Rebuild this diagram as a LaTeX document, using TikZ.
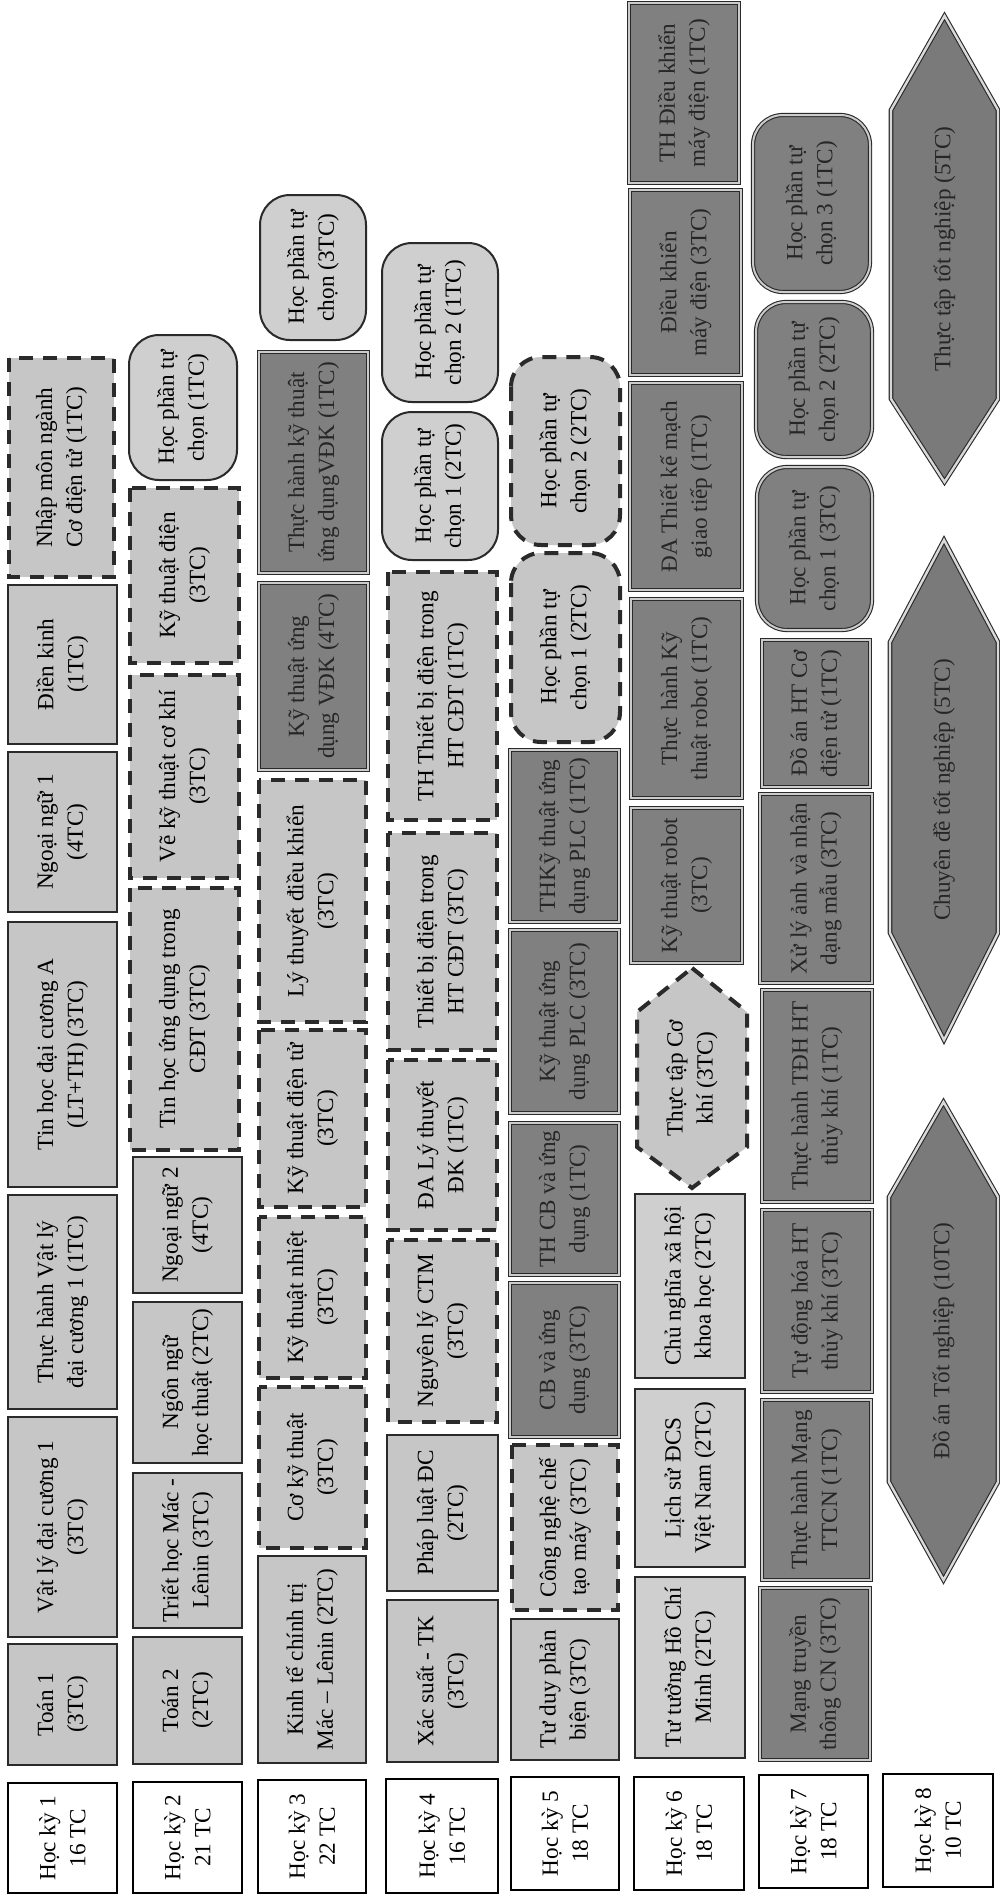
\documentclass[tikz,border=0pt]{standalone}
\usepackage{fontspec}
\setmainfont{Liberation Serif}
\definecolor{lightg}{HTML}{C6C6C6}
\definecolor{lightg2}{HTML}{CFCFCF}
\definecolor{darkg}{HTML}{808080}
\definecolor{edge}{HTML}{2A2A2A}
\newcommand{\cfont}{\fontsize{11.6}{15}\selectfont}
\newcommand{\cbox}[7]{%
  \pgfmathsetmacro\cbW{(#5-#3)*0.5}%
  \pgfmathsetmacro\cbH{(#4-#2)*0.5}%
  \pgfmathsetmacro\cbX{(#2+#4)/2}%
  \pgfmathsetmacro\cbY{(#3+#5)/2}%
  \node[#6, rotate=90, minimum width=\cbW pt, minimum height=\cbH pt] (#1) at (\cbX,\cbY) {#7};}
\newcommand{\hexa}[9]{%
  \pgfmathsetmacro\hxM{(#2+#3)/2}%
  \pgfmathsetmacro\hxC{(#4+#7)/2}%
  \draw[#8] (\hxM,#4) -- (#3,#5) -- (#3,#6) -- (\hxM,#7) -- (#2,#6) -- (#2,#5) -- cycle;
  \node[txt, rotate=90] (#1) at (\hxM,\hxC) {#9};}
\tikzset{
  base/.style={align=center, font=\cfont, inner sep=1pt, outer sep=0pt},
  txt/.style={base},
  lbl/.style={base, draw=black, line width=1.25pt, fill=white},
  lt/.style={base, draw=edge, line width=1pt, fill=lightg},
  lt2/.style={base, draw=edge, line width=1pt, fill=lightg2},
  ds/.style={base, draw=edge, line width=2pt, dash pattern=on 7pt off 5pt, fill=lightg},
  dk/.style={base, draw=edge, line width=0.55pt, double=white!80!black, double distance=1pt, fill=darkg, text=black!85},
  rnd/.style={rounded corners=15pt},
  hexdk/.style={draw=edge, line width=0.55pt, double=white!85!black, double distance=1.2pt, fill=darkg!95!black, line join=miter},
  hexds/.style={draw=edge, line width=2pt, dash pattern=on 7pt off 5pt, fill=lightg},
}
\begin{document}
\begin{tikzpicture}[x=0.5pt, y=-0.5pt]
\useasboundingbox (0,0) rectangle (1000,1895);
\fill[white] (0,0) rectangle (1000,1895);

% ---------- Semester 1
\cbox{lbl1}{8}{1783}{117}{1893}{lbl}{Học kỳ 1\\16 TC}
\cbox{toan1}{8}{1644}{117}{1765}{lt}{Toán 1\\(3TC)}
\cbox{vatly}{8}{1417}{117}{1637}{lt}{Vật lý đại cương 1\\(3TC)}
\cbox{thvatly}{8}{1195}{117}{1409}{lt}{Thực hành Vật lý\\đại cương 1 (1TC)}
\cbox{tinhoc}{8}{922}{117}{1187}{lt}{Tin học đại cương A\\(LT+TH) (3TC)}
\cbox{ngoaingu1}{8}{752}{117}{912}{lt}{Ngoại ngữ 1\\(4TC)}
\cbox{dienkinh}{8}{585}{117}{744}{lt}{Điền kinh\\(1TC)}
\cbox{nhapmon}{9}{358}{114}{577}{ds}{Nhập môn ngành\\Cơ điện tử (1TC)}

% ---------- Semester 2
\cbox{lbl2}{133}{1782}{242}{1893}{lbl}{Học kỳ 2\\21 TC}
\cbox{toan2}{133}{1637}{242}{1764}{lt}{Toán 2\\(2TC)}
\cbox{triet}{133}{1473}{242}{1628}{lt}{Triết học Mác -\\Lênin (3TC)}
\cbox{ngonngu}{133}{1302}{242}{1463}{lt}{Ngôn ngữ\\học thuật (2TC)}
\cbox{ngoaingu2}{133}{1157}{242}{1293}{lt}{Ngoại ngữ 2\\(4TC)}
\cbox{tinhocud}{130}{888}{239}{1150}{ds}{Tin học ứng dụng trong\\CĐT (3TC)}
\cbox{vekt}{130}{675}{239}{878}{ds}{Vẽ kỹ thuật cơ khí\\(3TC)}
\cbox{ktdien}{130}{488}{239}{663}{ds}{Kỹ thuật điện\\(3TC)}
\cbox{hptc2}{129}{335}{237}{480}{lt2,rnd}{Học phần tự\\chọn (1TC)}

% ---------- Semester 3
\cbox{lbl3}{258}{1780}{366}{1893}{lbl}{Học kỳ 3\\22 TC}
\cbox{kinhte}{258}{1556}{366}{1763}{lt}{Kinh tế chính trị\\Mác – Lênin (2TC)}
\cbox{cokt}{259}{1387}{366}{1548}{ds}{Cơ kỹ thuật\\(3TC)}
\cbox{ktnhiet}{259}{1217}{366}{1378}{ds}{Kỹ thuật nhiệt\\(3TC)}
\cbox{ktdientu}{259}{1030}{366}{1207}{ds}{Kỹ thuật điện tử\\(3TC)}
\cbox{ltdk}{259}{780}{366}{1022}{ds}{Lý thuyết điều khiển\\(3TC)}
\cbox{ktudvdk}{259}{583}{368}{770}{dk}{Kỹ thuật ứng\\dụng VĐK (4TC)}
\cbox{thktvdk}{259}{352}{368}{573}{dk}{Thực hành kỹ thuật\\ứng dụngVĐK (1TC)}
\cbox{hptc3}{260}{195}{366}{340}{lt2,rnd}{Học phần tự\\chọn (3TC)}

% ---------- Semester 4
\cbox{lbl4}{386}{1779}{498}{1893}{lbl}{Học kỳ 4\\16 TC}
\cbox{xacsuat}{387}{1600}{498}{1762}{lt}{Xác suất - TK\\(3TC)}
\cbox{phapluat}{387}{1435}{498}{1591}{lt}{Pháp luật ĐC\\(2TC)}
\cbox{nlctm}{388}{1240}{497}{1422}{ds}{Nguyên lý CTM\\(3TC)}
\cbox{dalt}{388}{1060}{497}{1230}{ds}{ĐA Lý thuyết\\ĐK (1TC)}
\cbox{tbd}{388}{833}{497}{1050}{ds}{Thiết bị điện trong\\HT CĐT (3TC)}
\cbox{thtbd}{388}{572}{497}{820}{ds}{TH Thiết bị điện trong\\HT CĐT (1TC)}
\cbox{hptc4a}{382}{412}{498}{560}{lt2,rnd}{Học phần tự\\chọn 1 (2TC)}
\cbox{hptc4b}{382}{243}{498}{402}{lt2,rnd}{Học phần tự\\chọn 2 (1TC)}

% ---------- Semester 5
\cbox{lbl5}{511}{1777}{619}{1890}{lbl}{Học kỳ 5\\18 TC}
\cbox{tuduy}{511}{1619}{619}{1760}{lt}{Tư duy phản\\biện (3TC)}
\cbox{cnctm}{512}{1445}{618}{1610}{ds}{Công nghệ chế\\tạo máy (3TC)}
\cbox{cb}{510}{1283}{619}{1437}{dk}{CB và ứng\\dụng (3TC)}
\cbox{thcb}{510}{1123}{619}{1275}{dk}{TH CB và ứng\\dụng (1TC)}
\cbox{ktplc}{510}{930}{619}{1113}{dk}{Kỹ thuật ứng\\dụng PLC (3TC)}
\cbox{thktplc}{510}{750}{619}{922}{dk}{THKỹ thuật ứng\\dụng PLC (1TC)}
\cbox{hptc5a}{511}{553}{620}{742}{ds,rnd}{Học phần tự\\chọn 1 (2TC)}
\cbox{hptc5b}{511}{357}{620}{545}{ds,rnd}{Học phần tự\\chọn 2 (2TC)}

% ---------- Semester 6
\cbox{lbl6}{634}{1777}{744}{1890}{lbl}{Học kỳ 6\\18 TC}
\cbox{tthcm}{635}{1577}{745}{1758}{lt2}{Tư tưởng Hồ Chí\\Minh (2TC)}
\cbox{lsdcs}{635}{1389}{745}{1567}{lt2}{Lịch sử ĐCS\\Việt Nam (2TC)}
\cbox{cnxh}{635}{1194}{745}{1378}{lt2}{Chủ nghĩa xã hội\\khoa học (2TC)}
\hexa{ttck}{637}{747}{968}{1012}{1147}{1188}{hexds}{Thực tập Cơ\\khí (3TC)}
\cbox{ktrobot}{631}{808}{742}{963}{dk}{Kỹ thuật robot\\(3TC)}
\cbox{thktrobot}{631}{599}{742}{798}{dk}{Thực hành Kỹ\\thuật robot (1TC)}
\cbox{datkm}{630}{383}{742}{590}{dk}{ĐA Thiết kế mạch\\giao tiếp (1TC)}
\cbox{dkmd}{630}{190}{741}{375}{dk}{Điều khiển\\máy điện (3TC)}
\cbox{thdkmd}{629}{3}{739}{183}{dk}{TH Điều khiển\\máy điện (1TC)}

% ---------- Semester 7
\cbox{lbl7}{759}{1775}{868}{1888}{lbl}{Học kỳ 7\\18 TC}
\cbox{mangtt}{760}{1588}{870}{1760}{dk}{Mạng truyền\\thông CN (3TC)}
\cbox{thmang}{762}{1400}{871}{1580}{dk}{Thực hành Mạng\\TTCN (1TC)}
\cbox{tdhtk}{762}{1210}{872}{1392}{dk}{Tự động hóa HT\\thủy khí (3TC)}
\cbox{thtdh}{762}{990}{872}{1202}{dk}{Thực hành TĐH HT\\thủy khí (1TC)}
\cbox{xla}{760}{794}{872}{983}{dk}{Xử lý ảnh và nhận\\dạng mẫu (3TC)}
\cbox{dacdt}{762}{640}{870}{787}{dk}{Đồ án HT Cơ\\điện tử (1TC)}
\cbox{hp7a}{757}{467}{872}{630}{dk,rnd}{Học phần tự\\chọn 1 (3TC)}
\cbox{hp7b}{756}{302}{872}{457}{dk,rnd}{Học phần tự\\chọn 2 (2TC)}
\cbox{hp7c}{753}{115}{870}{292}{dk,rnd}{Học phần tự\\chọn 3 (1TC)}

% ---------- Semester 8
\cbox{lbl8}{883}{1774}{993}{1887}{lbl}{Học kỳ 8\\10 TC}
\hexa{datn}{889}{998}{1102}{1197}{1482}{1580}{hexdk}{\color{black!85}Đồ án Tốt nghiệp (10TC)}
\hexa{cdtn}{890}{998}{540}{642}{933}{1040}{hexdk}{\color{black!85}Chuyên đề tốt nghiệp (5TC)}
\hexa{tttn}{891}{998}{16}{110}{399}{482}{hexdk}{\color{black!85}Thực tập tốt nghiệp (5TC)}
\end{tikzpicture}
\end{document}
